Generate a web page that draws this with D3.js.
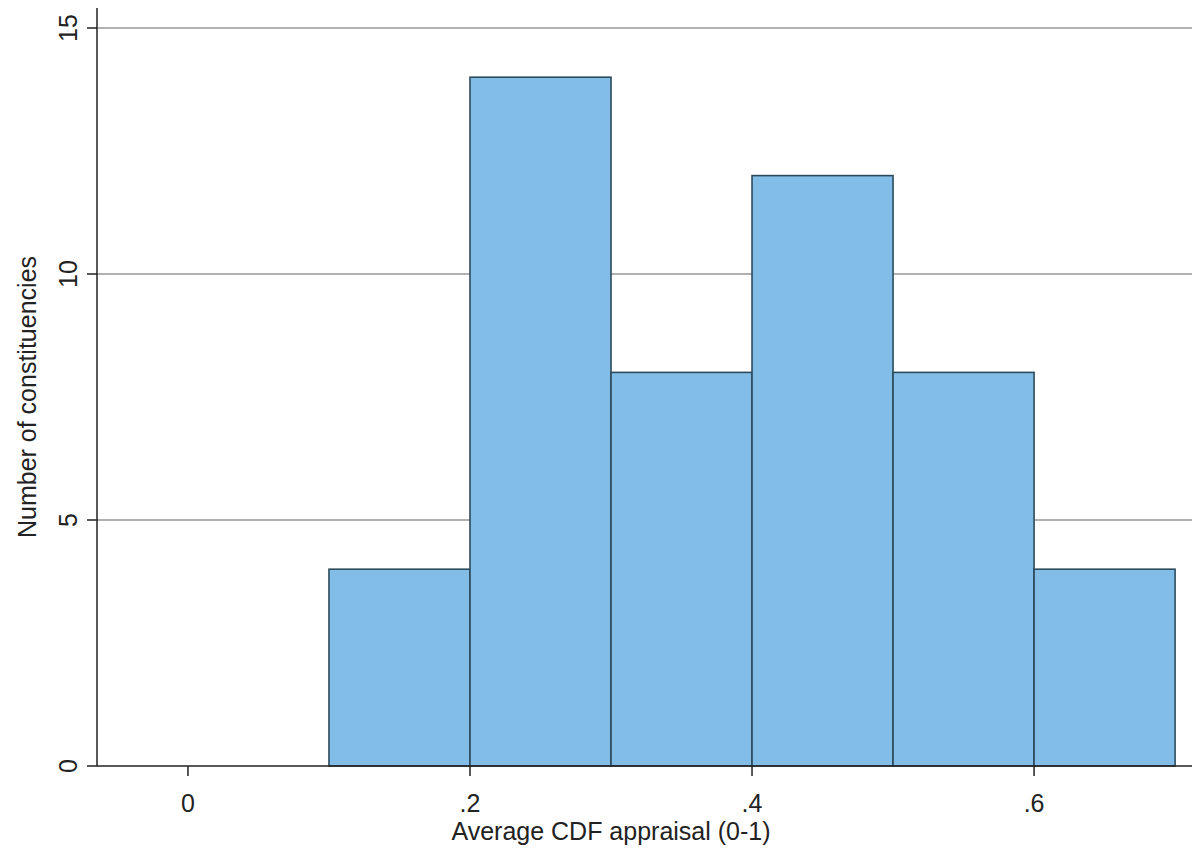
<!DOCTYPE html>
<html><head><meta charset="utf-8">
<script src="https://cdn.jsdelivr.net/npm/d3@7"></script>
<style>body{margin:0;background:#fff}</style>
</head><body><div id="chart"></div>
<script>
const binStarts = [0.1, 0.2, 0.3, 0.4, 0.5, 0.6];
const counts = [4, 14, 8, 12, 8, 4];
const binWidth = 0.1;
const xTicks = [0, 0.2, 0.4, 0.6];
const yTicks = [0, 5, 10, 15];

const width = 1192, height = 854,
      margin = {top: 28, right: 0, bottom: 88, left: 97};
const fs = 25;

const svg = d3.select("#chart").append("svg")
    .attr("width", width).attr("height", height)
    .style("font-family", "Liberation Sans, Arial, sans-serif");

const x = d3.scaleLinear().domain([-0.0645, 0.712]).range([margin.left, width - margin.right]);
const y = d3.scaleLinear().domain([0, 15]).range([height - margin.bottom, margin.top]);

// gridlines
svg.append("g").selectAll("line").data(yTicks.slice(1)).join("line")
    .attr("x1", margin.left).attr("x2", width)
    .attr("y1", d => y(d)).attr("y2", d => y(d))
    .attr("stroke", "#b0b0b0").attr("stroke-width", 2);

// bars
svg.append("g").selectAll("rect").data(binStarts).join("rect")
    .attr("x", d => x(d)).attr("width", d => x(d + binWidth) - x(d))
    .attr("y", (d, i) => y(counts[i])).attr("height", (d, i) => y(0) - y(counts[i]))
    .attr("fill", "#82bde8").attr("stroke", "#2c4b5c").attr("stroke-width", 1.6);

// y axis
const ya = svg.append("g").attr("transform", `translate(${margin.left},0)`);
ya.append("line").attr("y1", 8).attr("y2", y(0)).attr("stroke", "#222").attr("stroke-width", 1.5);
ya.selectAll(".t").data(yTicks).join("line")
    .attr("x1", -10).attr("x2", 0).attr("y1", d => y(d)).attr("y2", d => y(d))
    .attr("stroke", "#222").attr("stroke-width", 1.5);
ya.selectAll("text").data(yTicks).join("text")
    .attr("transform", d => `translate(-20,${y(d)}) rotate(-90)`)
    .attr("text-anchor", "middle").attr("font-size", fs).attr("fill", "#222")
    .text(d => d);
svg.append("text").attr("transform", `translate(36,${y(7.5)}) rotate(-90)`)
    .attr("text-anchor", "middle").attr("font-size", fs).attr("fill", "#222")
    .text("Number of constituencies");

// x axis
const xa = svg.append("g").attr("transform", `translate(0,${y(0)})`);
xa.append("line").attr("x1", margin.left).attr("x2", width).attr("stroke", "#222").attr("stroke-width", 1.5);
xa.selectAll(".t").data(xTicks).join("line")
    .attr("x1", d => x(d)).attr("x2", d => x(d)).attr("y1", 0).attr("y2", 10)
    .attr("stroke", "#222").attr("stroke-width", 1.5);
xa.selectAll("text").data(xTicks).join("text")
    .attr("x", d => x(d)).attr("y", 46)
    .attr("text-anchor", "middle").attr("font-size", fs).attr("fill", "#222")
    .text(d => d === 0 ? "0" : d3.format(".1f")(d).replace(/^0/, ""));
svg.append("text").attr("x", x(0.3)).attr("y", 840)
    .attr("text-anchor", "middle").attr("font-size", fs).attr("fill", "#222")
    .text("Average CDF appraisal (0-1)");
</script></body></html>
